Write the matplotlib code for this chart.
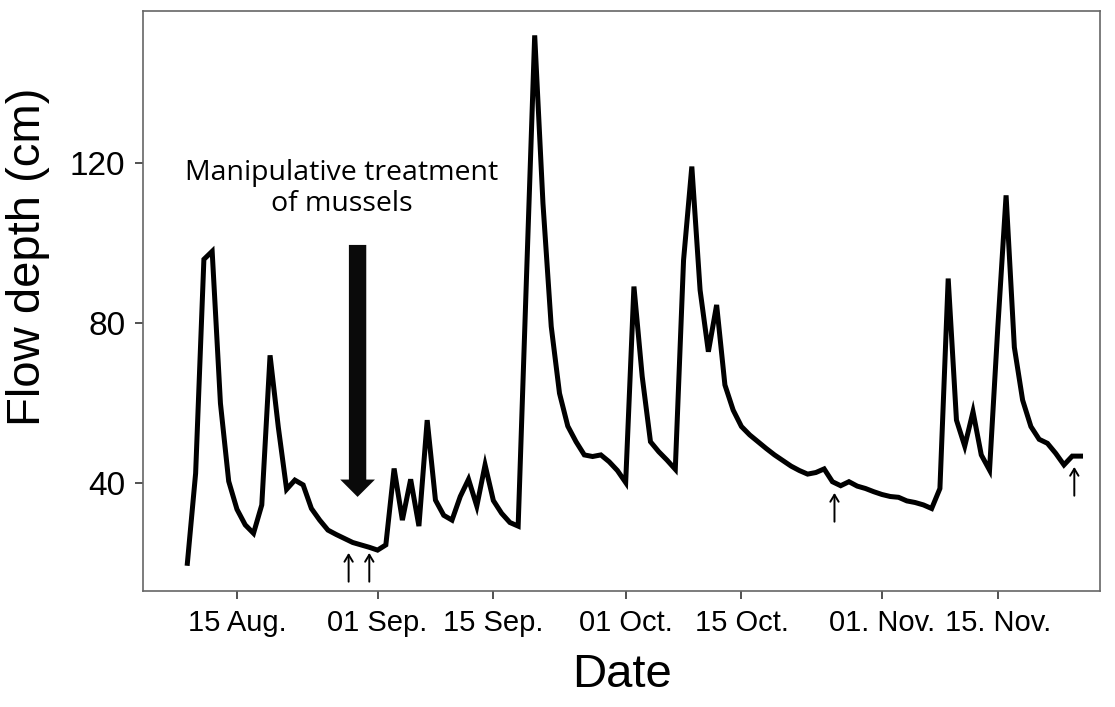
import datetime as dt
import matplotlib
matplotlib.use("Agg")
import matplotlib.pyplot as plt
from matplotlib.patches import FancyArrowPatch
import matplotlib.dates as mdates

# daily flow depth (cm), 09 Aug - 25 Nov
start = dt.datetime(2013, 8, 9)
depth = [
    # Aug 9-31
    20, 42.5, 96, 98, 60, 40.5, 33.5, 29.6, 27.5, 34.6, 72, 54, 38.5, 40.8,
    39.6, 33.7, 30.8, 28.3, 27.2, 26.2, 25.2, 24.6, 24.0,
    # Sep
    23.3, 24.6, 43.7, 30.8, 41, 29.3, 55.8, 35.8, 32, 30.8, 36.7, 41, 34.3,
    44.6, 35.7, 32.5, 30.2, 29.3, 91, 152, 110, 79.2, 62.5, 54.3, 50.4, 47.1,
    46.7, 47.1, 45.4, 43.2,
    # Oct
    40.2, 89.2, 66.7, 50.4, 47.9, 45.8, 43.5, 95.8, 119.2, 88.3, 72.9, 84.6,
    64.6, 58.3, 54.2, 52.1, 50.4, 48.7, 47.1, 45.7, 44.3, 43.2, 42.3, 42.7,
    43.6, 40.4, 39.4, 40.4, 39.3, 38.7, 37.9,
    # Nov 1-25
    37.2, 36.7, 36.5, 35.6, 35.2, 34.6, 33.7, 38.7, 91.2, 55.8, 49.3, 57.9,
    47.1, 43.3, 79, 112, 74, 60.8, 54.2, 51, 50, 47.5, 44.6, 46.8, 46.8,
]
dates = [start + dt.timedelta(days=i) for i in range(len(depth))]

tick_dates = [dt.datetime(2013, 8, 15), dt.datetime(2013, 9, 1),
              dt.datetime(2013, 9, 15), dt.datetime(2013, 10, 1),
              dt.datetime(2013, 10, 15), dt.datetime(2013, 11, 1),
              dt.datetime(2013, 11, 15)]
tick_labels = ["15 Aug.", "01 Sep.", "15 Sep.", "01 Oct.", "15 Oct.",
               "01. Nov.", "15. Nov."]
y_ticks = [40, 80, 120]

# sampling dates (small arrows) and their tip heights
sample_dates = [dt.datetime(2013, 8, 28, 12), dt.datetime(2013, 8, 31, 0),
                dt.datetime(2013, 10, 26, 6), dt.datetime(2013, 11, 24, 6)]
sample_tops = [22.6, 22.6, 37.6, 44.1]
sample_len = 7.2

treat_date = dt.datetime(2013, 8, 29, 14)
treat_from, treat_to = 99.6, 36.6

fig = plt.figure(figsize=(11.15, 7.07), dpi=100)
ax = fig.add_axes([0.1285, 0.1645, 0.858, 0.82])

ax.plot(dates, depth, color="black", lw=3.6, solid_joinstyle="miter")

ax.set_xlim(dt.datetime(2013, 8, 15) - dt.timedelta(days=11.33),
            dt.datetime(2013, 8, 15) + dt.timedelta(days=104.35))
ax.set_ylim(13.15, 158.1)

ax.set_xticks([mdates.date2num(d) for d in tick_dates])
ax.set_xticklabels(tick_labels, family="Liberation Sans", fontsize=21)
ax.set_yticks(y_ticks)
ax.set_yticklabels([str(v) for v in y_ticks], family="Liberation Sans", fontsize=24)
ax.tick_params(axis="both", direction="out", length=6, width=1.2,
               color="#333333", pad=7)

for s in ax.spines.values():
    s.set_color("#666666")
    s.set_linewidth(1.2)

ax.set_xlabel("Date", family="Liberation Sans", fontsize=34, labelpad=12)
ax.set_ylabel("Flow depth (cm)", family="Liberation Sans", fontsize=34)
ax.yaxis.set_label_coords(-0.097, 0.5765)

# treatment arrow
big = FancyArrowPatch((mdates.date2num(treat_date), treat_from),
                      (mdates.date2num(treat_date), treat_to),
                      arrowstyle="simple,head_length=1.0,head_width=2.0,tail_width=1.0",
                      mutation_scale=12.5, color="#0a0a0a", lw=0,
                      shrinkA=0, shrinkB=0)
ax.add_patch(big)
ax.text(mdates.date2num(dt.datetime(2013, 8, 27, 16)), 113.7,
        "Manipulative treatment\nof mussels", ha="center", va="center",
        family="Open Sans", fontsize=20.5, linespacing=1.1)

for d, top in zip(sample_dates, sample_tops):
    ax.annotate("", xy=(mdates.date2num(d), top),
                xytext=(mdates.date2num(d), top - sample_len),
                arrowprops=dict(arrowstyle="->,head_length=0.5,head_width=0.3",
                                lw=1.4, color="black", shrinkA=0, shrinkB=0))

fig.savefig("out.png", dpi=100)
